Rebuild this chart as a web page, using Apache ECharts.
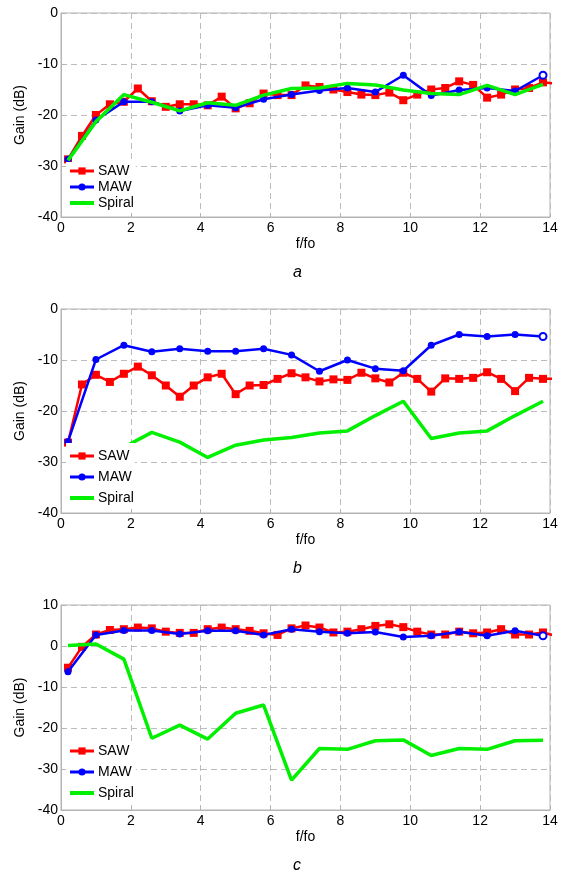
<!DOCTYPE html>
<html>
<head>
<meta charset="utf-8">
<script src="https://cdn.jsdelivr.net/npm/echarts@6/dist/echarts.min.js"></script>
<style>
html,body{margin:0;padding:0;background:#fff;}
#chart{width:575px;height:872px;}
</style>
</head>
<body>
<div id="chart"></div>
<script>
// ---------- data ----------
const xSAW = [0.2,0.6,1.0,1.4,1.8,2.2,2.6,3.0,3.4,3.8,4.2,4.6,5.0,5.4,5.8,6.2,6.6,7.0,7.4,7.8,8.2,8.6,9.0,9.4,9.8,10.2,10.6,11.0,11.4,11.8,12.2,12.6,13.0,13.4,13.8,14.2];
const xMAW = [0.2,1.0,1.8,2.6,3.4,4.2,5.0,5.8,6.6,7.4,8.2,9.0,9.8,10.6,11.4,12.2,13.0,13.8];
const xSpiral = [0.2,1.0,1.8,2.6,3.4,4.2,5.0,5.8,6.6,7.4,8.2,9.0,9.8,10.6,11.4,12.2,13.0,13.8];

const sawA = [-28.7,-24.1,-20.0,-17.9,-17.4,-14.8,-17.3,-18.4,-17.9,-17.9,-18.1,-16.4,-18.7,-17.7,-15.8,-16.1,-16.1,-14.2,-14.5,-15.0,-15.5,-16.0,-16.1,-15.6,-17.1,-16.0,-15.0,-14.7,-13.4,-14.1,-16.6,-16.0,-15.0,-14.7,-13.6,-13.9];
const mawA = [-28.7,-21.0,-17.4,-17.4,-19.2,-18.1,-18.6,-16.9,-16.0,-15.2,-14.7,-15.5,-12.2,-16.2,-15.1,-14.7,-15.3,-12.2];
const spiralA = [-28.9,-21.3,-16.0,-17.5,-19.2,-17.6,-18.1,-16.1,-14.8,-14.7,-13.8,-14.1,-15.1,-15.8,-16.0,-14.2,-16.0,-14.0];

const sawB = [-26.2,-14.8,-12.9,-14.3,-12.7,-11.3,-13.0,-15.0,-17.2,-15.0,-13.4,-12.7,-16.7,-15.0,-14.9,-13.7,-12.6,-13.4,-14.2,-13.8,-13.9,-12.5,-13.6,-14.4,-12.5,-13.7,-16.2,-13.6,-13.7,-13.5,-12.4,-13.7,-16.1,-13.5,-13.7,-13.7];
const mawB = [-26.0,-9.9,-7.1,-8.4,-7.8,-8.3,-8.3,-7.8,-9.0,-12.2,-10.0,-11.7,-12.1,-7.1,-5.0,-5.4,-5.0,-5.4];
const spiralB = [-27.5,-27.5,-27.1,-24.2,-26.1,-29.1,-26.7,-25.7,-25.2,-24.3,-23.9,-20.9,-18.1,-25.4,-24.3,-23.9,-20.9,-18.1];

const sawC = [-5.3,-0.2,2.8,3.9,4.1,4.5,4.3,3.5,3.2,3.2,4.1,4.5,4.1,3.7,3.1,2.7,4.3,5.0,4.5,3.3,3.5,4.1,4.9,5.3,4.6,3.5,2.8,2.8,3.5,3.1,3.3,4.1,2.8,2.8,3.3,2.4];
const mawC = [-6.3,2.7,3.8,3.8,2.9,3.7,3.7,2.7,4.1,3.5,3.1,3.4,2.2,2.5,3.5,2.5,3.7,2.5];
const spiralC = [0.1,0.5,-3.2,-22.5,-19.3,-22.7,-16.4,-14.4,-32.7,-25.0,-25.2,-23.1,-22.9,-26.7,-25.0,-25.2,-23.1,-23.0];

const xTicks = [0,2,4,6,8,10,12,14];
const yRangeAB = [-40, 0];
const yRangeC = [-40, 10];
const panelLabels = ['a','b','c'];
const seriesNames = ['SAW','MAW','Spiral'];

// ---------- layout ----------
const FONT = "'Liberation Sans', Arial, sans-serif";
const RED = '#ff0000', BLUE = '#0000ff', GREEN = '#00f000';
const panels = [
  {top: 13,  height: 204, yr: yRangeAB, saw: sawA, maw: mawA, spi: spiralA, legTop: 162, legGap: 2, legPad: [2,2,2,2]},
  {top: 309, height: 204, yr: yRangeAB, saw: sawB, maw: mawB, spi: spiralB, legTop: 443, legGap: 7, legPad: [6,1,2,2]},
  {top: 605, height: 205, yr: yRangeC,  saw: sawC, maw: mawC, spi: spiralC, legTop: 742, legGap: 7, legPad: [2,2,2,2]}
];
const LEFT = 61, WIDTH = 489;

const zip = (xs, ys) => ys.map((y, i) => [xs[i], y]);

const grids = [], xAxes = [], yAxes = [], series = [], legends = [], graphics = [];
panels.forEach((p, i) => {
  grids.push({left: LEFT, top: p.top, width: WIDTH, height: p.height, show: true,
    borderColor: '#b4b4b4', borderWidth: 1, backgroundColor: '#fff'});
  xAxes.push({type: 'value', gridIndex: i, min: 0, max: 14, interval: 2,
    name: 'f/fo', nameLocation: 'middle', nameGap: 20,
    nameTextStyle: {fontFamily: FONT, fontSize: 14, color: '#000'},
    axisLine: {show: true, onZero: false, lineStyle: {color: '#b4b4b4'}},
    axisTick: {show: true, inside: true, length: 4, lineStyle: {color: '#b4b4b4'}},
    axisLabel: {fontFamily: FONT, fontSize: 14, color: '#000', margin: 4},
    splitLine: {show: true, lineStyle: {color: '#bcbcbc', type: [6,4], width: 1}}});
  yAxes.push({type: 'value', gridIndex: i, min: p.yr[0], max: p.yr[1], interval: 10,
    name: 'Gain (dB)', nameLocation: 'middle', nameGap: 33,
    nameTextStyle: {fontFamily: FONT, fontSize: 14, color: '#000'},
    axisLine: {show: true, onZero: false, lineStyle: {color: '#b4b4b4'}},
    axisTick: {show: true, inside: true, length: 4, lineStyle: {color: '#b4b4b4'}},
    axisLabel: {fontFamily: FONT, fontSize: 14, color: '#000', margin: 3},
    splitLine: {show: true, lineStyle: {color: '#bcbcbc', type: [6,4], width: 1}}});

  const mawData = zip(xMAW, p.maw).map((d, k, arr) => k === arr.length - 1
      ? {value: d, itemStyle: {color: '#fff', borderColor: BLUE, borderWidth: 2}} : d);

  series.push({name: 'SAW', type: 'line', xAxisIndex: i, yAxisIndex: i, data: zip(xSAW, p.saw),
    symbol: 'rect', symbolSize: 8, clip: true, animation: false, z: 3,
    lineStyle: {color: RED, width: 2.5}, itemStyle: {color: RED}});
  series.push({name: 'MAW', type: 'line', xAxisIndex: i, yAxisIndex: i, data: mawData,
    symbol: 'circle', symbolSize: 7, clip: true, animation: false, z: 4,
    lineStyle: {color: BLUE, width: 2.5}, itemStyle: {color: BLUE}});
  series.push({name: 'Spiral', type: 'line', xAxisIndex: i, yAxisIndex: i, data: zip(xSpiral, p.spi),
    symbol: 'none', clip: true, animation: false, z: 5,
    lineStyle: {color: GREEN, width: 3.5}, itemStyle: {color: GREEN}});

  legends.push({orient: 'vertical', left: 66, top: p.legTop, padding: p.legPad,
    backgroundColor: '#fff', itemWidth: 24, itemHeight: 9, itemGap: p.legGap,
    data: [
      {name: 'SAW', lineStyle: {width: 3, color: RED}, itemStyle: {color: RED}},
      {name: 'MAW', lineStyle: {width: 3, color: BLUE}, itemStyle: {color: BLUE}},
      {name: 'Spiral', lineStyle: {width: 4, color: GREEN}, itemStyle: {opacity: 0}}
    ],
    selectedMode: false, z: 20,
    textStyle: {fontFamily: FONT, fontSize: 14, lineHeight: 14, color: '#000', padding: [0,0,0,-1]}});

  graphics.push({type: 'text', left: 293, top: p.top + p.height + 48,
    style: {text: panelLabels[i], font: 'italic 16px ' + FONT, fill: '#000'}});
});

const chart = echarts.init(document.getElementById('chart'), null, {renderer: 'canvas'});
chart.setOption({
  animation: false,
  backgroundColor: '#fff',
  grid: grids, xAxis: xAxes, yAxis: yAxes, series: series,
  legend: legends, graphic: graphics
});
</script>
</body>
</html>
